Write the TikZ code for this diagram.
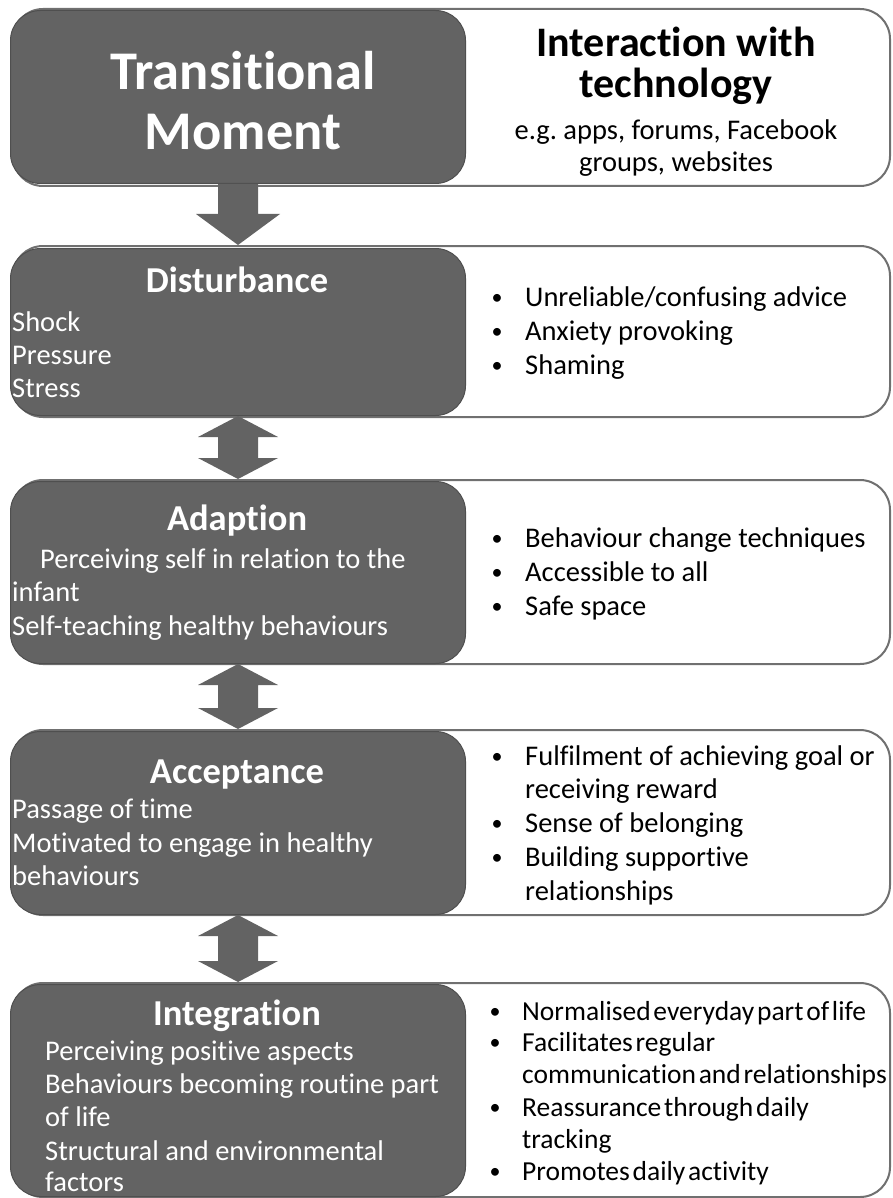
\documentclass[tikz,border=0pt]{standalone}
\usepackage{fontspec}
\setmainfont{Carlito}[Ligatures={NoCommon,NoContextual,NoRequired},RawFeature={-calt}]
\newfontfamily\tightfont[WordSpace=0.45,Ligatures={NoCommon,NoContextual,NoRequired},RawFeature={-calt}]{Carlito}
\frenchspacing
\newcommand\nolig{\kern0pt }
\usetikzlibrary{calc}
\definecolor{dk}{RGB}{99,99,99}
\definecolor{edgegray}{RGB}{112,112,112}
\tikzset{
  darkbox/.style={fill=dk, draw=dk!80!black, line width=1pt, rounded corners=30pt, anchor=north west, inner sep=0pt},
  whitebox/.style={fill=white, draw=edgegray, line width=2pt, rounded corners=30pt, anchor=north west, inner sep=0pt},
  bigtitle/.style={text=white, font=\fontsize{54.5}{58}\selectfont\bfseries, anchor=base, inner sep=0pt},
  head/.style={text=white, font=\fontsize{36.5}{40}\selectfont\bfseries, anchor=base, inner sep=0pt},
  wtxt/.style={text=white, font=\fontsize{28.5}{33}\selectfont, anchor=base west, inner sep=0pt},
  btxt/.style={text=black, font=\fontsize{28.5}{33}\selectfont, anchor=base west, inner sep=0pt},
  ctxt/.style={text=black, font=\tightfont\fontsize{27.5}{33}\selectfont, anchor=base west, inner sep=0pt},
  bul/.style={text=black, font=\fontsize{22}{26}\selectfont, anchor=base, inner sep=0pt, yshift=2pt},
  rtitle/.style={text=black, font=\fontsize{42}{46}\selectfont\bfseries, anchor=base, inner sep=0pt},
  rsub/.style={text=black, font=\fontsize{28.5}{33}\selectfont, anchor=base, inner sep=0pt},
  arr/.style={fill=dk},
}
\newcommand\twoway[2]{\fill[arr] let \p1=(#1.south), \p2=(#2.north) in
  (\x1,\y1) -- (\x1+40pt,\y1-21pt) -- (\x1+20pt,\y1-21pt) -- (\x1+20pt,\y2+21pt)
  -- (\x1+40pt,\y2+21pt) -- (\x1,\y2) -- (\x1-40pt,\y2+21pt) -- (\x1-20pt,\y2+21pt)
  -- (\x1-20pt,\y1-21pt) -- (\x1-40pt,\y1-21pt) -- cycle;}
\begin{document}
\begin{tikzpicture}[x=1pt,y=1pt]
\useasboundingbox[fill=white] (0,0) rectangle (892,-1198);
% boxes
\node[whitebox, minimum width=877pt, minimum height=177pt] (tmw) at (12,-8) {};
\node[darkbox, minimum width=455pt, minimum height=173pt] (tm) at (10,-10) {};
\node[whitebox, minimum width=877pt, minimum height=171pt] (distw) at (12,-245) {};
\node[darkbox, minimum width=455pt, minimum height=167pt] (dist) at (10,-248) {};
\node[whitebox, minimum width=877pt, minimum height=184pt] (adapw) at (12,-479) {};
\node[darkbox, minimum width=455pt, minimum height=182pt] (adap) at (10,-481) {};
\node[whitebox, minimum width=877pt, minimum height=185pt] (accw) at (12,-729) {};
\node[darkbox, minimum width=455pt, minimum height=183pt] (acc) at (10,-731) {};
\node[whitebox, minimum width=877pt, minimum height=214pt] (intw) at (12,-982) {};
\node[darkbox, minimum width=455pt, minimum height=212pt] (integ) at (10,-984) {};
% arrows
\fill[arr] let \p1=(tm.south), \p2=(distw.north) in
  (\x1-20pt,\y1) -- (\x1+20pt,\y1) -- (\x1+20pt,\y2+31pt) -- (\x1+42pt,\y2+31pt)
  -- (\x1,\y2) -- (\x1-42pt,\y2+31pt) -- (\x1-20pt,\y2+31pt) -- cycle;
\twoway{dist}{adapw}
\twoway{adap}{accw}
\twoway{acc}{intw}
% top
\node[bigtitle] (tmA) at (243,-90) {Transit\nolig ional};
\node[bigtitle] (tmB) at (243,-150) {Moment};
\node[rtitle] (itA) at (676,-57) {Interact\nolig ion with};
\node[rtitle] (itB) at (676,-98) {technology};
\node[rsub] (itC) at (676,-140) {e.g. apps, forums, Facebook};
\node[rsub] (itD) at (676,-172) {groups, websites};
% disturbance
\node[head] (dH) at (237,-292) {Disturbance};
\node[wtxt] (d1) at (12,-331) {Shock};
\node[wtxt] (d2) at (12,-364) {Pressure};
\node[wtxt] (d3) at (12,-397) {Stress};
\node[bul] (db1) at (497,-306) {•};
\node[btxt] (dr1) at (525,-306) {Unreliable/confusing advice};
\node[bul] (db2) at (497,-340) {•};
\node[btxt] (dr2) at (525,-340) {Anxiety provoking};
\node[bul] (db3) at (497,-374) {•};
\node[btxt] (dr3) at (525,-374) {Shaming};
% adaption
\node[head] (aH) at (237,-530) {Adapt\nolig ion};
\node[wtxt] (a1) at (40,-568) {Perceiving self in relation to the};
\node[wtxt] (a2) at (12,-601) {infant};
\node[wtxt] (a3) at (12,-635) {Self-teaching healthy behaviours};
\node[bul] (ab1) at (497,-547) {•};
\node[btxt] (ar1) at (525,-547) {Behaviour change techniques};
\node[bul] (ab2) at (497,-581) {•};
\node[btxt] (ar2) at (525,-581) {Accessible to all};
\node[bul] (ab3) at (497,-615) {•};
\node[btxt] (ar3) at (525,-615) {Safe space};
% acceptance
\node[head] (cH) at (237,-783) {Acceptance};
\node[wtxt] (c1) at (12,-818) {Passage of time};
\node[wtxt] (c2) at (12,-852) {Motivated to engage in healthy};
\node[wtxt] (c3) at (12,-885) {behaviours};
\node[bul] (cb1) at (497,-765) {•};
\node[btxt] (cr1) at (525,-765) {Fulfilment of achieving goal or};
\node[btxt] (cr2) at (525,-798) {receiving reward};
\node[bul] (cb2) at (497,-832) {•};
\node[btxt] (cr3) at (525,-832) {Sense of belonging};
\node[bul] (cb3) at (497,-866) {•};
\node[btxt] (cr4) at (525,-866) {Building supportive};
\node[btxt] (cr5) at (525,-900) {relationships};
% integration
\node[head] (iH) at (237,-1025) {Integrat\nolig ion};
\node[wtxt] (i1) at (45,-1060) {Perceiving positive aspects};
\node[wtxt] (i2) at (45,-1093) {Behaviours becoming routine part};
\node[wtxt] (i3) at (45,-1126) {of life};
\node[wtxt] (i4) at (45,-1160) {Structural and environmental};
\node[wtxt] (i5) at (45,-1191) {factors};
\node[bul] (ib1) at (495,-1020) {•};
\node[ctxt] (ir1) at (522,-1020) {Normalised everyday part of life};
\node[bul] (ib2) at (495,-1051) {•};
\node[ctxt] (ir2) at (522,-1051) {Facilitates regular};
\node[ctxt] (ir3) at (522,-1083) {communication and relationships};
\node[bul] (ib3) at (495,-1116) {•};
\node[ctxt] (ir4) at (522,-1116) {Reassurance through daily};
\node[ctxt] (ir5) at (522,-1148) {tracking};
\node[bul] (ib4) at (495,-1180) {•};
\node[ctxt] (ir6) at (522,-1180) {Promotes daily activity};
\end{tikzpicture}
\end{document}
